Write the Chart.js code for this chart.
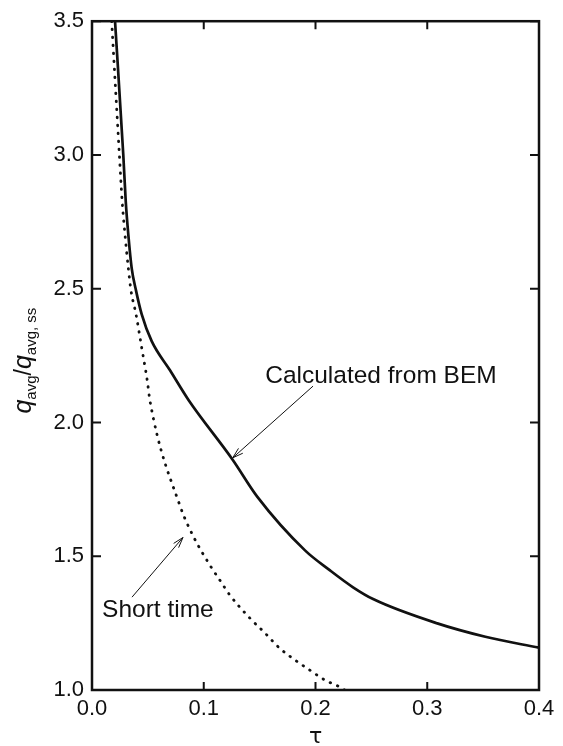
<!DOCTYPE html>
<html>
<head>
<meta charset="utf-8">
<script src="https://cdn.jsdelivr.net/npm/chart.js@4.4.1/dist/chart.umd.min.js"></script>
<style>
  html, body { margin: 0; padding: 0; background: #fff; }
</style>
</head>
<body>
<canvas id="chart" width="563" height="746"></canvas>
<script>
// Curve: BEM result (solid)
const bemTau = [0.0206, 0.028, 0.0302, 0.0325, 0.0355, 0.0394, 0.0445, 0.0534, 0.0698, 0.0862, 0.126, 0.148, 0.1906, 0.213, 0.2336, 0.252, 0.309, 0.352, 0.400];
const bemQ   = [3.50,   3.00,  2.826,  2.702,  2.577,  2.493,  2.404,  2.304,  2.195,  2.085,  1.86,  1.722, 1.522,  1.447, 1.384,  1.339, 1.249, 1.199, 1.158];

// Short time solution (dotted)
const shortTau = [0.0176, 0.0245, 0.027, 0.0295, 0.0325, 0.0349, 0.0394, 0.0445, 0.0495, 0.0519, 0.0787, 0.090, 0.1056, 0.1145, 0.1235, 0.1414, 0.155, 0.168, 0.1817, 0.195, 0.2085, 0.2219, 0.226];
const shortQ   = [3.50,   3.00,   2.826, 2.703,  2.577,  2.493,  2.404,  2.279,  2.155,  2.080,  1.689,  1.58,  1.466,  1.41,   1.354,  1.268,  1.212, 1.156, 1.112,  1.074, 1.037,  1.011,  1.00];

const xTicks = [0.0, 0.1, 0.2, 0.3, 0.4];
const yTicks = [1.0, 1.5, 2.0, 2.5, 3.0, 3.5];

// Labels with arrows: text anchor and arrow from/to, in data units
const noteText = ['Calculated from BEM', 'Short time'];
const noteAt   = [[0.155, 2.147], [0.009, 1.272]];
const arrowFrom = [[0.1978, 2.136], [0.0358, 1.347]];
const arrowTo   = [[0.126, 1.868], [0.0814, 1.570]];

const FONT = '"Liberation Sans", Arial, sans-serif';
const INK = '#111';

const toPoints = (xs, ys) => xs.map((x, i) => ({ x: x, y: ys[i] }));

const framePlugin = {
  id: 'frame',
  afterDraw(chart) {
    const ctx = chart.ctx;
    const a = chart.chartArea;
    const sx = chart.scales.x, sy = chart.scales.y;
    ctx.save();
    ctx.strokeStyle = INK;
    ctx.lineWidth = 2.5;
    ctx.strokeRect(a.left, a.top, a.right - a.left, a.bottom - a.top);

    // inward tick marks on all four sides
    ctx.lineWidth = 2;
    ctx.beginPath();
    xTicks.forEach(v => {
      const px = sx.getPixelForValue(v);
      ctx.moveTo(px, a.bottom); ctx.lineTo(px, a.bottom - 8);
      ctx.moveTo(px, a.top); ctx.lineTo(px, a.top + 8);
    });
    yTicks.forEach(v => {
      const py = sy.getPixelForValue(v);
      ctx.moveTo(a.left, py); ctx.lineTo(a.left + 9, py);
      ctx.moveTo(a.right, py); ctx.lineTo(a.right - 9, py);
    });
    ctx.stroke();

    // annotations
    ctx.fillStyle = INK;
    ctx.font = '24.5px ' + FONT;
    ctx.textBaseline = 'alphabetic';
    ctx.textAlign = 'left';
    noteText.forEach((t, i) => {
      ctx.fillText(t, sx.getPixelForValue(noteAt[i][0]), sy.getPixelForValue(noteAt[i][1]));
      const x0 = sx.getPixelForValue(arrowFrom[i][0]), y0 = sy.getPixelForValue(arrowFrom[i][1]);
      const x1 = sx.getPixelForValue(arrowTo[i][0]), y1 = sy.getPixelForValue(arrowTo[i][1]);
      const ang = Math.atan2(y1 - y0, x1 - x0);
      ctx.lineWidth = 1;
      ctx.beginPath();
      ctx.moveTo(x0, y0); ctx.lineTo(x1, y1);
      ctx.moveTo(x1 - 11 * Math.cos(ang - 0.3), y1 - 11 * Math.sin(ang - 0.3));
      ctx.lineTo(x1, y1);
      ctx.lineTo(x1 - 11 * Math.cos(ang + 0.3), y1 - 11 * Math.sin(ang + 0.3));
      ctx.stroke();
    });

    // x axis title
    ctx.textAlign = 'center';
    ctx.font = '22px "DejaVu Sans", ' + FONT;
    ctx.fillText('τ', (a.left + a.right) / 2, 743);

    // y axis title with subscripts
    const parts = [
      { t: 'q', f: 'italic 25px ' + FONT, dy: 0 },
      { t: 'avg', f: '15px ' + FONT, dy: 5 },
      { t: '/', f: '23px ' + FONT, dy: 0 },
      { t: 'q', f: 'italic 25px ' + FONT, dy: 0 },
      { t: 'avg, ss', f: '15px ' + FONT, dy: 5 }
    ];
    let total = 0;
    parts.forEach(p => { ctx.font = p.f; p.w = ctx.measureText(p.t).width; total += p.w; });
    ctx.translate(31, (a.top + a.bottom) / 2 + 5);
    ctx.rotate(-Math.PI / 2);
    ctx.textAlign = 'left';
    let cx = -total / 2;
    parts.forEach(p => {
      ctx.font = p.f;
      ctx.fillText(p.t, cx, p.dy);
      cx += p.w;
    });
    ctx.restore();
  }
};

new Chart(document.getElementById('chart'), {
  type: 'line',
  data: {
    datasets: [
      {
        label: 'Calculated from BEM',
        data: toPoints(bemTau, bemQ),
        borderColor: INK,
        borderWidth: 2.7,
        pointRadius: 0,
        cubicInterpolationMode: 'monotone',
        fill: false
      },
      {
        label: 'Short time',
        data: toPoints(shortTau, shortQ),
        borderColor: INK,
        borderWidth: 2.8,
        borderDash: [0.5, 7.5],
        borderCapStyle: 'round',
        pointRadius: 0,
        cubicInterpolationMode: 'monotone',
        fill: false
      }
    ]
  },
  options: {
    responsive: false,
    animation: false,
    layout: { padding: { top: 19, right: 24, bottom: 0, left: 0 } },
    plugins: { legend: { display: false }, tooltip: { enabled: false } },
    scales: {
      x: {
        type: 'linear',
        min: 0, max: 0.4,
        afterBuildTicks: s => { s.ticks = xTicks.map(v => ({ value: v })); },
        afterFit: s => { s.height = 56; },
        grid: { display: false, drawTicks: false },
        border: { display: false },
        ticks: {
          padding: 6,
          maxRotation: 0,
          color: INK,
          font: { family: FONT, size: 22 },
          callback: v => v.toFixed(1)
        }
      },
      y: {
        type: 'linear',
        min: 1, max: 3.5,
        afterBuildTicks: s => { s.ticks = yTicks.map(v => ({ value: v })); },
        afterFit: s => { s.width = 92; },
        grid: { display: false, drawTicks: false },
        border: { display: false },
        ticks: {
          padding: 8,
          color: INK,
          font: { family: FONT, size: 22 },
          callback: v => v.toFixed(1)
        }
      }
    }
  },
  plugins: [framePlugin]
});
</script>
</body>
</html>
